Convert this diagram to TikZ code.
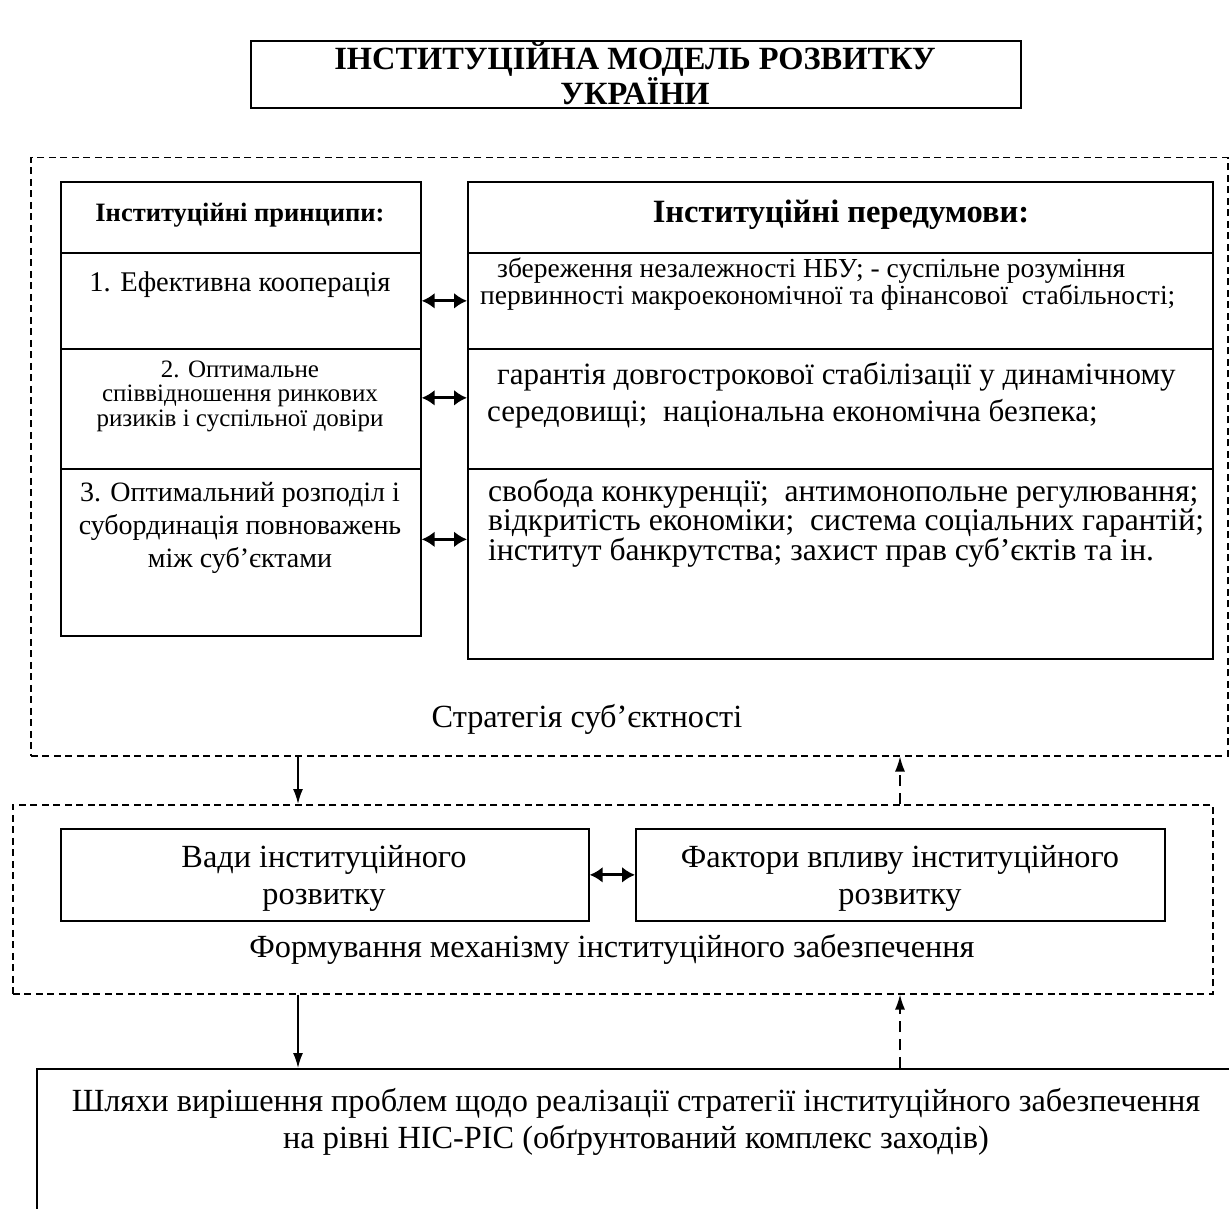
\documentclass[tikz,border=0pt]{standalone}
\usepackage{fontspec}
\setmainfont{Liberation Serif}
\usetikzlibrary{arrows.meta,calc}
\begin{document}
\begin{tikzpicture}[x=1pt,y=-1pt,
  box/.style={draw, line width=1.7pt, inner sep=0pt, anchor=north west},
  frame/.style={draw, line width=1.5pt, dash pattern=on 7pt off 4.5pt, inner sep=0pt, anchor=north west},
  link/.style={line width=1.6pt, -{Latex[length=15pt,width=10pt]}},
  back/.style={line width=1.6pt, dash pattern=on 11pt off 7pt, -{Latex[length=15pt,width=10pt]}},
  both/.style={line width=3pt, {Latex[length=13pt,width=16pt]}-{Latex[length=13pt,width=16pt]}},
  txt/.style={inner sep=0pt, align=center},
  big/.style={font=\fontsize{32.3}{37}\selectfont},
]
\clip (0,0) rectangle (1229,1209);
\fill[white] (0,0) rectangle (1229,1209);

% title
\node[box, line width=2pt, minimum width=770pt, minimum height=67pt] (title) at (250,40) {};
\node[txt, font=\bfseries\fontsize{32.4}{30}\selectfont] (titletext) at (635,73)
  {ІНСТИТУЦІЙНА МОДЕЛЬ РОЗВИТКУ\\УКРАЇНИ};

% strategy frame
\node[frame, minimum width=1197pt, minimum height=598pt] (f1) at (30,157) {};

% principles column
\node[box, minimum width=360pt, minimum height=71pt]  (l0) at (60,181) {};
\node[box, minimum width=360pt, minimum height=96pt]  (l1) at (60,252) {};
\node[box, minimum width=360pt, minimum height=120pt] (l2) at (60,348) {};
\node[box, minimum width=360pt, minimum height=167pt] (l3) at (60,468) {};

% prerequisites column
\node[box, minimum width=745pt, minimum height=71pt]  (r0) at (467,181) {};
\node[box, minimum width=745pt, minimum height=96pt]  (r1) at (467,252) {};
\node[box, minimum width=745pt, minimum height=120pt] (r2) at (467,348) {};
\node[box, minimum width=745pt, minimum height=190pt] (r3) at (467,468) {};

\node[txt, font=\bfseries\fontsize{26.5}{30}\selectfont] (l0t) at (240,215) {Інституційні принципи:};
\node[txt, font=\fontsize{28.5}{33}\selectfont] (l1t) at (240,285) {1. Ефективна кооперація};
\node[txt, font=\fontsize{25}{24.5}\selectfont] (l2t) at (240,396)
  {2. Оптимальне\\співвідношення ринкових\\ризиків і суспільної довіри};
\node[txt, font=\fontsize{28}{33}\selectfont] (l3t) at (240,528)
  {3. Оптимальний розподіл і\\субординація повноважень\\між суб’єктами};

\node[txt, font=\bfseries\fontsize{32.5}{34}\selectfont] (r0t) at (841,215) {Інституційні передумови:};
\node[txt, align=left, anchor=west, font=\fontsize{27.5}{19}\selectfont] (r1t) at (480,284)
  {\hspace*{17pt}збереження незалежності НБУ; - суспільне розуміння\\первинності макроекономічної та фінансової\ \ стабільності;};
\node[txt, align=left, anchor=west, font=\fontsize{31}{37}\selectfont] (r2t) at (487,395)
  {\hspace*{10pt}гарантія довгострокової стабілізації у динамічному\\середовищі;\ \ національна економічна безпека;};
\node[txt, align=left, anchor=west, font=\fontsize{31.6}{24.5}\selectfont] (r3t) at (488,523)
  {свобода конкуренції;\ \ антимонопольне регулювання;\\відкритість економіки;\ \ система соціальних гарантій;\\інститут банкрутства; захист прав суб’єктів та ін.};

\draw[both] (l1.east) -- (r1.west);
\draw[both] ([yshift=11pt]l2.east) -- ([yshift=11pt]l2.east -| r2.west);
\draw[both] ([yshift=13pt]l3.east) -- ([yshift=13pt]l3.east -| r3.west);

\node[txt, big] (s1) at (587,719) {Стратегія суб’єктності};

% mechanism frame
\node[frame, minimum width=1200pt, minimum height=189pt] (f2) at (12,804) {};
\node[box, minimum width=528pt, minimum height=92pt] (v) at (60,828) {};
\node[box, minimum width=529pt, minimum height=92pt] (fa) at (635,828) {};
\node[txt, big] (vt) at (324,878) {Вади інституційного\\розвитку};
\node[txt, big] (fat) at (900,878) {Фактори впливу інституційного\\розвитку};
\draw[both] (v.east) -- (fa.west);
\node[txt, big] (s2) at (612,949) {Формування механізму інституційного забезпечення};

% solutions box
\node[box, minimum width=1250pt, minimum height=200pt] (bot) at (36,1068) {};
\node[txt, big] (bt) at (636,1122)
  {Шляхи вирішення проблем щодо реалізації стратегії інституційного забезпечення\\на рівні НІС-РІС (обґрунтований комплекс заходів)};

% links between levels
\coordinate (dx) at (298,0);
\coordinate (ux) at (900,0);
\draw[link] (f1.south -| dx) -- (f2.north -| dx);
\draw[back] (f2.north -| ux) -- (f1.south -| ux);
\draw[link] (f2.south -| dx) -- (bot.north -| dx);
\draw[back] (bot.north -| ux) -- (f2.south -| ux);
\end{tikzpicture}
\end{document}
